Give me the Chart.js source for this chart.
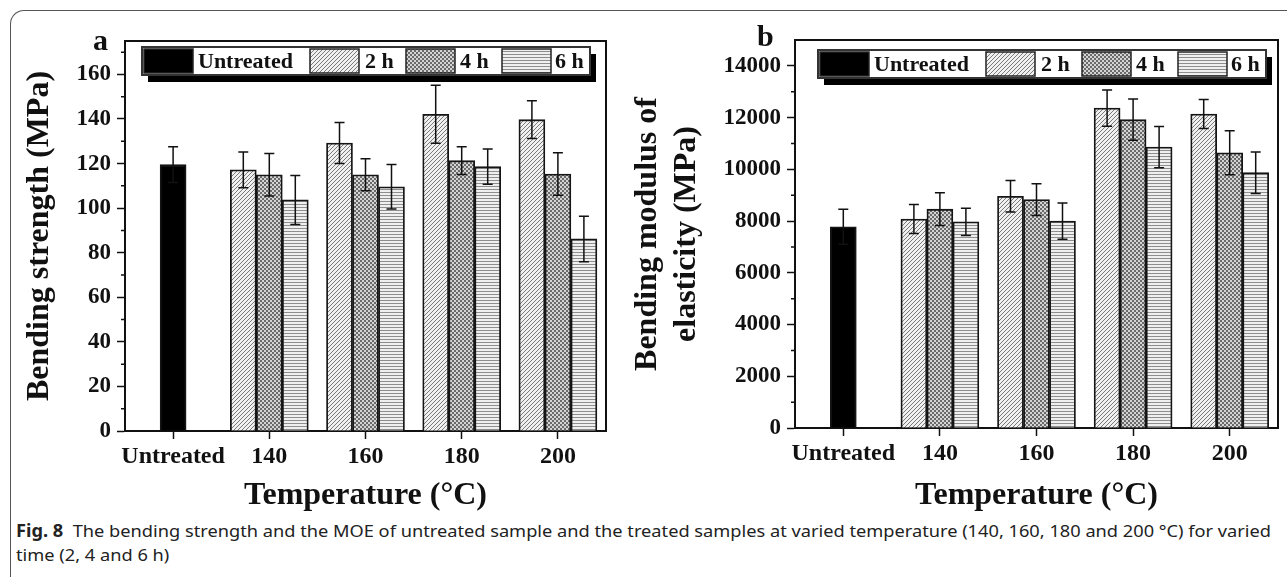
<!DOCTYPE html>
<html>
<head>
<meta charset="utf-8">
<script src="https://cdn.jsdelivr.net/npm/chart.js@4.4.1/dist/chart.umd.min.js"></script>
<style>
  body { margin: 0; background: #fff; }
  #page { position: relative; width: 1287px; height: 577px; overflow: hidden; background: #fff; }
  #frame { position: absolute; left: 10px; top: 10px; width: 1400px; height: 700px;
           border-left: 1.5px solid #555; border-top: 1.5px solid #555; border-top-left-radius: 14px; }
  .wrap { position: absolute; top: 0; }
  .tag { position: absolute; font: bold 30px "Liberation Serif", serif; color: #111; line-height: 1; }
  #caption { position: absolute; left: 16px; top: 519px; font-family: "Noto Sans", "Open Sans", sans-serif;
             font-size: 17px; line-height: 24px; color: #222; white-space: nowrap; transform-origin: 0 0; }
</style>
</head>
<body>
<div id="page">
  <div id="frame"></div>
  <div class="wrap" style="left:0; width:620px; height:515px;"><canvas id="strengthChart" width="620" height="515"></canvas></div>
  <div class="wrap" style="left:620px; width:667px; height:515px;"><canvas id="moeChart" width="667" height="515"></canvas></div>
  <span class="tag" style="left:93px; top:25px;">a</span>
  <span class="tag" style="left:757px; top:21px;">b</span>
  <div id="caption"><span id="capLine1"><b>Fig. 8</b>&nbsp; The bending strength and the MOE of untreated sample and the treated samples at varied temperature (140, 160, 180 and 200 °C) for varied</span><br>time (2, 4 and 6 h)</div>
</div>
<script>
const categories = ["Untreated", "140", "160", "180", "200"];
const seriesNames = ["Untreated", "2 h", "4 h", "6 h"];

// (a) bending strength, MPa
const strengthTicks = [0, 20, 40, 60, 80, 100, 120, 140, 160];
const strengthUntreated = [119.5, null, null, null, null];
const strength2h = [null, 117.2, 129.2, 142.1, 139.7];
const strength4h = [null, 115.0, 115.0, 121.3, 115.3];
const strength6h = [null, 103.7, 109.6, 118.6, 86.2];
const strengthErrUntreated = [8.0, null, null, null, null];
const strengthErr2h = [null, 8.0, 9.2, 13.0, 8.5];
const strengthErr4h = [null, 9.5, 7.2, 6.2, 9.5];
const strengthErr6h = [null, 11.0, 10.0, 7.9, 10.2];

// (b) bending modulus of elasticity, MPa
const moeTicks = [0, 2000, 4000, 6000, 8000, 10000, 12000, 14000];
const moeUntreated = [7780, null, null, null, null];
const moe2h = [null, 8080, 8960, 12370, 12140];
const moe4h = [null, 8460, 8830, 11920, 10640];
const moe6h = [null, 7970, 8000, 10860, 9870];
const moeErrUntreated = [680, null, null, null, null];
const moeErr2h = [null, 560, 610, 700, 560];
const moeErr4h = [null, 630, 610, 800, 850];
const moeErr6h = [null, 530, 700, 800, 800];

const INK = "#111";
const SERIF = '"Liberation Serif", "Times New Roman", serif';
Chart.defaults.font.family = SERIF;
Chart.defaults.color = INK;

//hatch fills like the printed figure
function makePattern(kind) {
  const c = document.createElement("canvas");
  const g = c.getContext("2d");
  if (kind === "diag") {
    c.width = 4; c.height = 4;
    g.fillStyle = "#f0f0f0"; g.fillRect(0, 0, 4, 4);
    g.strokeStyle = "#7a7a7a"; g.lineWidth = 1;
    g.beginPath();
    g.moveTo(0, 4); g.lineTo(4, 0);
    g.moveTo(-1, 1); g.lineTo(1, -1);
    g.moveTo(3, 5); g.lineTo(5, 3);
    g.stroke();
  } else if (kind === "check") {
    c.width = 4; c.height = 4;
    g.fillStyle = "#d4d4d4"; g.fillRect(0, 0, 4, 4);
    g.fillStyle = "#6a6a6a";
    g.fillRect(0, 0, 2, 2); g.fillRect(2, 2, 2, 2);
  } else {
    c.width = 4; c.height = 3;
    g.fillStyle = "#efefef"; g.fillRect(0, 0, 4, 3);
    g.fillStyle = "#8e8e8e"; g.fillRect(0, 0, 4, 1);
  }
  return g.createPattern(c, "repeat");
}
const fills = ["#000", makePattern("diag"), makePattern("check"), makePattern("horiz")];

//error bars, plot frame, minor ticks and the boxed legend
const figDecor = {
  id: "figDecor",
  afterDatasetsDraw(chart) {
    const ctx = chart.ctx;
    const y = chart.scales.y;
    ctx.save();
    ctx.strokeStyle = INK;
    ctx.lineWidth = 1.5;
    chart.data.datasets.forEach((ds, i) => {
      const meta = chart.getDatasetMeta(i);
      meta.data.forEach((bar, j) => {
        const v = ds.data[j], e = ds.errors[j];
        if (v == null || e == null) return;
        const top = y.getPixelForValue(v + e);
        const bot = y.getPixelForValue(v - e);
        ctx.beginPath();
        ctx.moveTo(bar.x, top); ctx.lineTo(bar.x, bot);
        ctx.moveTo(bar.x - 5, top); ctx.lineTo(bar.x + 5, top);
        ctx.moveTo(bar.x - 5, bot); ctx.lineTo(bar.x + 5, bot);
        ctx.stroke();
      });
    });
    ctx.restore();
  },
  afterDraw(chart, args, opts) {
    const ctx = chart.ctx;
    const a = chart.chartArea;
    const y = chart.scales.y;
    ctx.save();
    ctx.strokeStyle = INK;
    ctx.lineWidth = 2;
    ctx.beginPath();
    ctx.moveTo(a.left, a.top); ctx.lineTo(a.right, a.top); ctx.lineTo(a.right, a.bottom);
    ctx.stroke();

    // minor ticks halfway between the labelled ones
    ctx.lineWidth = 1.5;
    ctx.beginPath();
    for (let v = opts.minor; v < y.max; v += opts.minor * 2) {
      const py = y.getPixelForValue(v);
      ctx.moveTo(a.left - 4, py); ctx.lineTo(a.left, py);
    }
    ctx.stroke();

    // legend box with drop shadow
    const bx = a.left + opts.legendX, by = opts.legendY, bw = 448, bh = 28;
    ctx.fillStyle = "#000";
    ctx.fillRect(bx + 6, by + 7, bw, bh);
    ctx.fillStyle = "#fff";
    ctx.fillRect(bx, by, bw, bh);
    ctx.strokeStyle = "#333";
    ctx.lineWidth = 2;
    ctx.strokeRect(bx, by, bw, bh);
    const swatchX = [2, 168, 264, 360];
    const textX = [56, 223, 318, 413];
    ctx.font = "bold 22px " + SERIF;
    ctx.textBaseline = "middle";
    seriesNames.forEach((name, i) => {
      ctx.fillStyle = fills[i];
      ctx.fillRect(bx + swatchX[i], by + 2, 49, bh - 4);
      ctx.strokeStyle = "#222";
      ctx.lineWidth = 1.5;
      ctx.strokeRect(bx + swatchX[i], by + 2, 49, bh - 4);
      ctx.fillStyle = INK;
      ctx.fillText(name, bx + textX[i], by + bh / 2 + 1);
    });
    ctx.restore();
  }
};

function makeDatasets(values, errors) {
  return values.map((vals, i) => ({
    label: seriesNames[i],
    data: vals,
    errors: errors[i],
    backgroundColor: fills[i],
    borderColor: "#151515",
    borderWidth: 1.8,
    barThickness: 26,
    skipNull: true
  }));
}

function makeOptions(cfg) {
  return {
    responsive: false,
    animation: false,
    devicePixelRatio: 1,
    layout: { padding: { left: 0, top: cfg.top, right: cfg.right, bottom: 0 } },
    plugins: {
      legend: { display: false },
      tooltip: { enabled: false },
      figDecor: { minor: cfg.minor, legendX: cfg.legendX, legendY: cfg.legendY }
    },
    scales: {
      x: {
        type: "category",
        offset: true,
        grid: { display: true, drawOnChartArea: false, offset: false, tickLength: 8, tickWidth: 1.5, tickColor: INK },
        border: { color: INK, width: 2 },
        ticks: { color: INK, font: { size: 24, weight: "bold" }, padding: 3, maxRotation: 0, autoSkip: false },
        title: { display: true, text: "Temperature (°C)", color: INK, font: { size: 32, weight: "bold" }, padding: { top: 0, bottom: 0 } },
        afterFit(s) { s.height = cfg.xHeight; }
      },
      y: {
        min: 0,
        max: cfg.max,
        afterBuildTicks(s) { s.ticks = cfg.ticks.map(v => ({ value: v })); },
        grid: { display: true, drawOnChartArea: false, tickLength: 8, tickWidth: 1.5, tickColor: INK },
        border: { color: INK, width: 2 },
        ticks: { color: INK, font: { size: 23, weight: "bold" }, padding: 6, callback: v => String(v) },
        title: { display: true, text: cfg.yTitle, color: INK, font: { size: 32, weight: "bold" }, padding: { top: cfg.titlePad, bottom: 0 } },
        afterFit(s) { s.width = cfg.yWidth; }
      }
    }
  };
}

new Chart(document.getElementById("strengthChart").getContext("2d"), {
  type: "bar",
  plugins: [figDecor],
  data: {
    labels: categories,
    datasets: makeDatasets(
      [strengthUntreated, strength2h, strength4h, strength6h],
      [strengthErrUntreated, strengthErr2h, strengthErr4h, strengthErr6h]
    )
  },
  options: makeOptions({
    top: 41, right: 14, max: 175, ticks: strengthTicks, minor: 10,
    xHeight: 84, yWidth: 125, titlePad: 21,
    yTitle: "Bending strength (MPa)", legendX: 17, legendY: 47
  })
});

new Chart(document.getElementById("moeChart").getContext("2d"), {
  type: "bar",
  plugins: [figDecor],
  data: {
    labels: categories,
    datasets: makeDatasets(
      [moeUntreated, moe2h, moe4h, moe6h],
      [moeErrUntreated, moeErr2h, moeErr4h, moeErr6h]
    )
  },
  options: makeOptions({
    top: 40, right: 9, max: 15000, ticks: moeTicks, minor: 1000,
    xHeight: 87, yWidth: 175, titlePad: 9,
    yTitle: ["Bending modulus of", "elasticity (MPa)"], legendX: 23, legendY: 50
  })
});

//squeeze caption to the printed line width
const cap = document.getElementById("caption");
const w = document.getElementById("capLine1").getBoundingClientRect().width;
cap.style.transform = "scaleX(" + (1255 / w).toFixed(4) + ")";
</script>
</body>
</html>
